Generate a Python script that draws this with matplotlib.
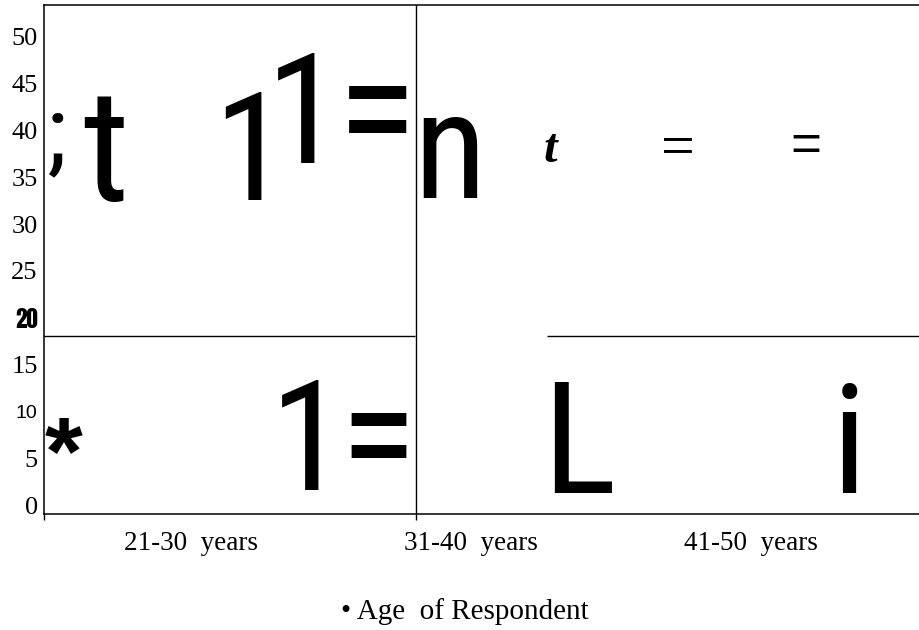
import matplotlib
matplotlib.use("Agg")
import math
import matplotlib.pyplot as plt
from matplotlib import font_manager
from matplotlib.font_manager import FontProperties
from matplotlib.textpath import TextPath

# ---- data ----
categories = ["21-30  years", "31-40  years", "41-50  years"]
y_ticks = [0, 5, 10, 15, 20, 25, 30, 35, 40, 45, 50]
y_tick_labels = ["0", "5", "10", "15", "20", "25", "30", "35", "40", "45", "50"]
x_label = "\u2022 Age  of Respondent"

# garbled glyphs inside the plot: text, ink centre x (category units), ink top / bottom (value units)
glyph_text = [";", "t", "1", "1", "=", "n", "t", "=", "=",
              "*", "1", "=", "L", "i"]
glyph_cx = [-0.482, -0.314, 0.186, 0.375, 0.668, 0.925, 1.289, 1.738, 2.196,
            -0.455, 0.391, 0.668, 1.398, 2.352]
glyph_top = [41.97, 43.58, 44.11, 48.27, 44.75, 41.44, 39.52, 39.30, 39.52,
             9.40, 13.35, 9.83, 13.03, 13.03]
glyph_bottom = [35.03, 32.36, 32.58, 36.53, 39.73, 32.79, 36.53, 37.70, 37.70,
                5.55, 1.60, 5.02, 1.28, 1.28]
glyph_kind = ["big", "big", "big", "big", "big", "big", "serif_bi", "serif", "sans",
              "sans_bold", "big", "big", "big", "big"]

divider_x = 0.804
split_y = 18.05
split_segments = [(-0.53, 0.80), (1.271, 2.61)]

names = {f.name for f in font_manager.fontManager.ttflist}


def ink(s, fp):
    e = TextPath((0, 0), s, size=100, prop=fp).get_extents()
    return e.x0 / 100, e.y0 / 100, e.x1 / 100, e.y1 / 100


# pick the narrow sans whose proportions best match the big glyphs
target_wh = {"t": 32 / 105, "1": 35 / 109, "n": 54 / 81, "L": 57 / 110, "i": 13 / 110, "=": 60 / 46}
cands = [c for c in ["Liberation Sans Narrow", "Arial Narrow", "Roboto Condensed",
                     "Archivo Narrow", "Liberation Sans"] if c in names] or ["DejaVu Sans"]
best, best_err = cands[-1], 1e9
for c in cands:
    fp = FontProperties(family=c)
    err = 0.0
    for ch, r in target_wh.items():
        x0, y0, x1, y1 = ink(ch, fp)
        err += math.log(((x1 - x0) / (y1 - y0)) / r) ** 2
    if err < best_err:
        best, best_err = c, err
big_family = best

font_for = {
    "big": FontProperties(family=big_family),
    "serif_bi": FontProperties(family="Liberation Serif", weight="bold", style="italic"),
    "serif": FontProperties(family="Liberation Serif"),
    "sans": FontProperties(family="Liberation Sans"),
    "sans_bold": FontProperties(family="Liberation Sans", weight="bold"),
}

DPI = 100
fig = plt.figure(figsize=(9.2, 6.3), dpi=DPI)
ax = fig.add_axes([44 / 920, (630 - 514) / 630, (920 - 44) / 920, (514 - 5) / 630])
ax.set_xlim(-0.525, 2.604)
ax.set_ylim(-0.96, 53.4)

ax.spines["right"].set_visible(False)
for s in ["left", "bottom", "top"]:
    ax.spines[s].set_linewidth(1.1)
    ax.spines[s].set_color("black")

ax.axvline(divider_x, color="black", lw=1.0)
for x0, x1 in split_segments:
    ax.hlines(split_y, x0, x1, color="black", lw=1.0)

# glyphs: size from ink height, placed by ink centre / ink bottom
tD = ax.transData
for s, cx, top, bot, kind in zip(glyph_text, glyph_cx, glyph_top, glyph_bottom, glyph_kind):
    fp = font_for[kind].copy()
    ex0, ey0, ex1, ey1 = ink(s, fp)
    X, Ytop = tD.transform((cx, top))
    _, Ybot = tD.transform((cx, bot))
    em_px = (Ytop - Ybot) / (ey1 - ey0)
    fp.set_size(em_px * 72 / DPI)
    ox = X - (ex0 + ex1) / 2 * em_px
    oy = Ybot - ey0 * em_px
    xd, yd = tD.inverted().transform((ox, oy))
    ax.text(xd, yd, s, fontproperties=fp, ha="left", va="baseline",
            color="black", clip_on=False)

ax.set_yticks(y_ticks)
ax.set_yticklabels(y_tick_labels)
ax.tick_params(axis="y", length=0, pad=4.5)
cond_family = next((c for c in ["Anton", "Oswald", "Bebas Neue", "DejaVu Sans"] if c in names), "DejaVu Sans")
for lab in ax.get_yticklabels():
    txt = lab.get_text()
    if txt == "20":
        fp20 = FontProperties(family=cond_family,
                              weight="normal" if cond_family == "Anton" else "bold")
        _, a0, _, a1 = ink("20", fp20)
        fp20.set_size(20 / (a1 - a0) * 72 / DPI)
        lab.set_fontproperties(fp20)
    elif txt == "10":
        lab.set_family("Liberation Sans")
        lab.set_fontsize(14)
    else:
        lab.set_family("Liberation Serif")
        lab.set_fontsize(19)

ax.set_xticks(range(len(categories)))
ax.set_xticklabels(categories, family="Liberation Serif", fontsize=19.5)
ax.tick_params(axis="x", length=0, pad=12.5)
ax.set_xticks([-0.525, divider_x], minor=True)
ax.tick_params(axis="x", which="minor", length=4, width=1.0, direction="out")

fig.text(465 / 920, 1 - 619 / 630, x_label, family="Liberation Serif", fontsize=21,
         ha="center", va="baseline")

fig.savefig("out.png", dpi=DPI)
